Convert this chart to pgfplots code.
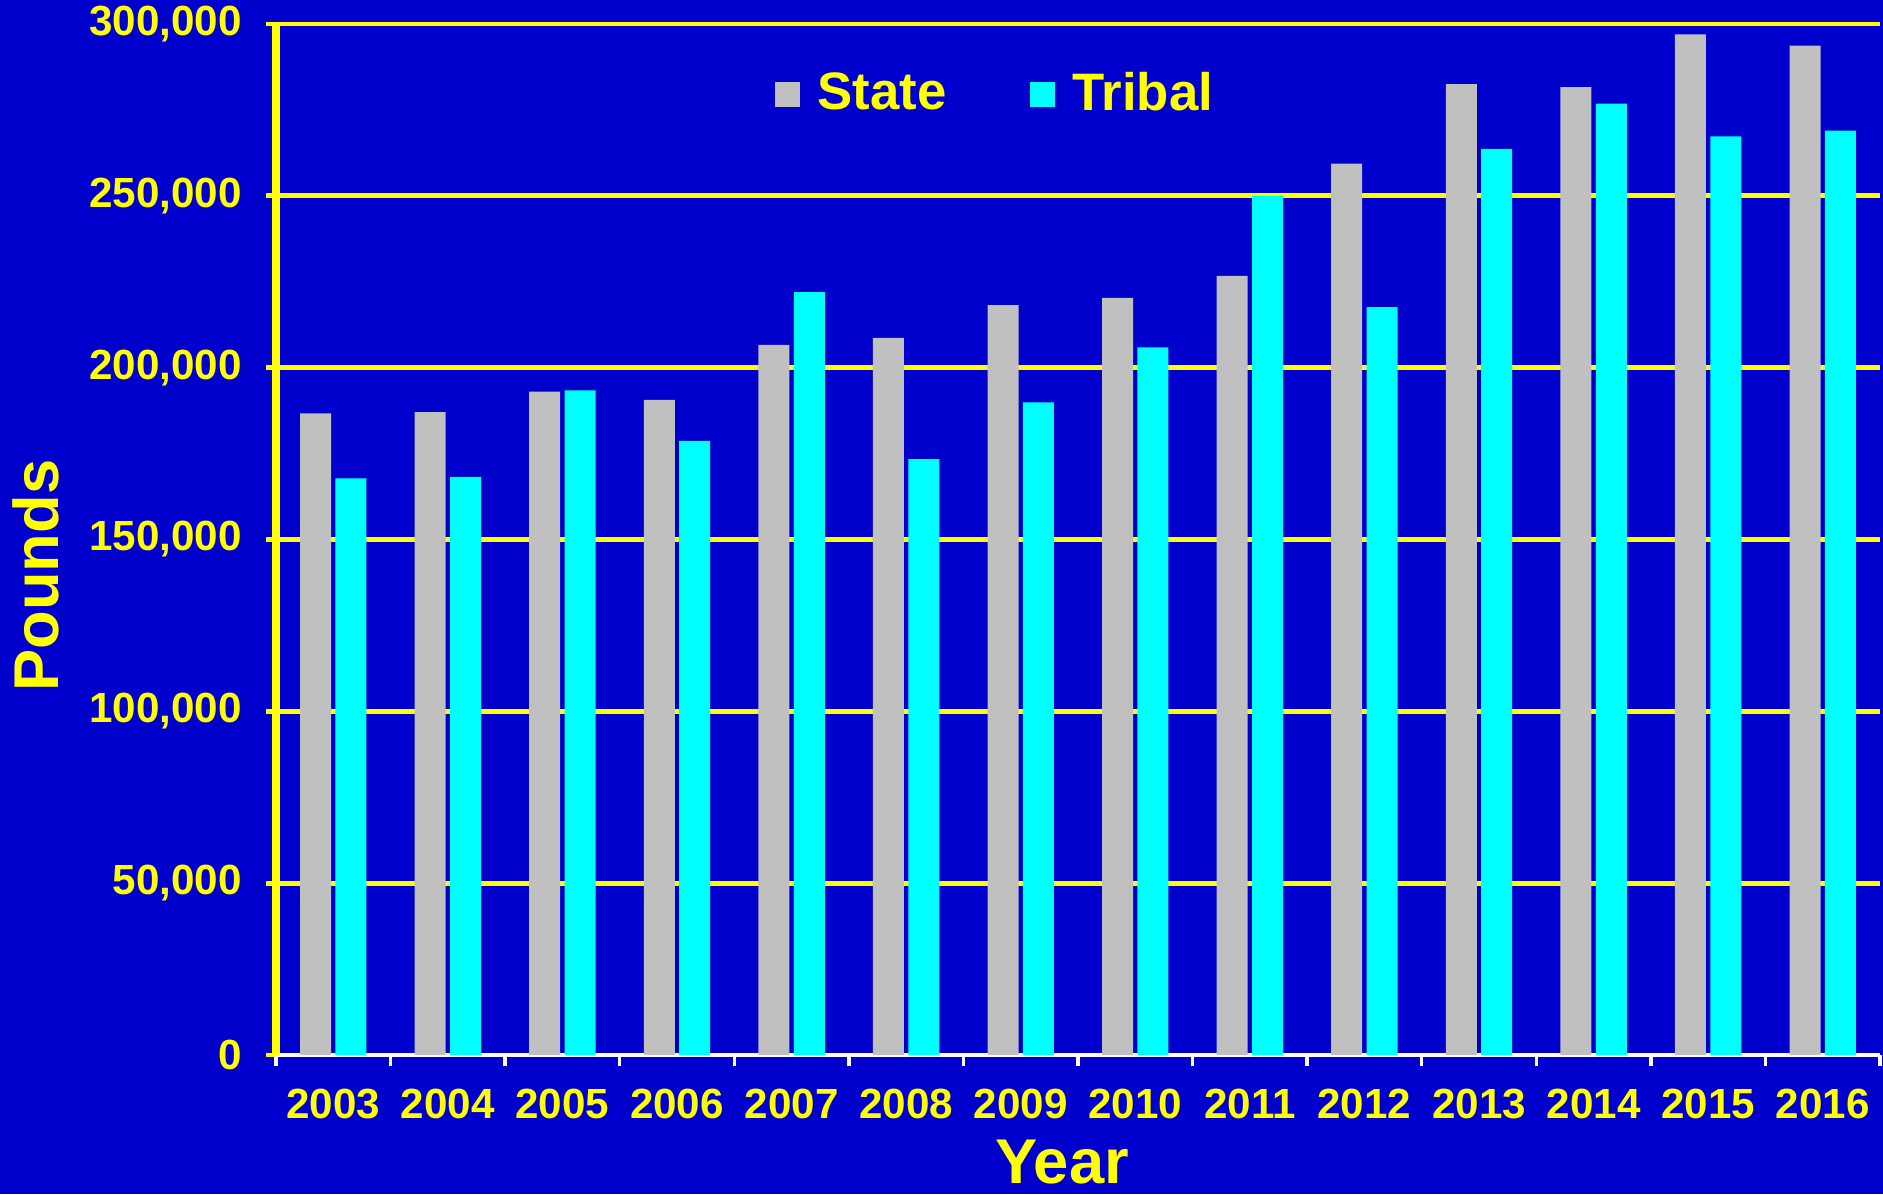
\documentclass[border=0pt]{standalone}
\usepackage{fontspec}
\setmainfont{Liberation Sans}
\usepackage{pgfplots}
\pgfplotsset{compat=1.18}
\definecolor{BgBlue}{RGB}{0,0,204}
\definecolor{AxYellow}{RGB}{255,255,0}
\definecolor{StateGray}{RGB}{192,192,192}
\definecolor{TribalCyan}{RGB}{0,255,255}
\begin{document}
\begin{tikzpicture}
% page background, also fixes the page size
\fill[BgBlue, use as bounding box] (-2.76,-1.39) rectangle (16.07,10.55);
\begin{axis}[
  at={(0,0)}, anchor=south west,
  scale only axis, width=16.04cm, height=10.31cm,
  ybar=0.044cm, bar width=0.31cm,
  xmin=-0.5, xmax=13.5, ymin=0, ymax=300000,
  enlargelimits=false,
  xtick={0,...,13},
  xticklabels={2003,2004,2005,2006,2007,2008,2009,2010,2011,2012,2013,2014,2015,2016},
  minor xtick={-0.5,0.5,...,13.5},
  ytick={0,50000,100000,150000,200000,250000,300000},
  yticklabels={0,{50,000},{100,000},{150,000},{200,000},{250,000},{300,000}},
  scaled y ticks=false,
  axis x line*=bottom, axis y line*=left,
  x axis line style={draw=white, line width=1.3pt, -},
  y axis line style={draw=AxYellow, line width=2pt, -},
  tick align=outside,
  major x tick style={draw=none},
  minor x tick style={draw=white, line width=1pt},
  minor tick length=0.11cm,
  y tick style={draw=AxYellow, line width=1.4pt},
  major tick length=0.1cm,
  ymajorgrids, grid style={draw=AxYellow, line width=1.4pt},
  tick label style={text=AxYellow, font=\fontsize{12}{14}\selectfont\bfseries},
  yticklabel style={xshift=-0.12cm},
  xticklabel style={yshift=-0.12cm},
  xlabel={Year}, ylabel={Pounds},
  label style={text=AxYellow, font=\fontsize{18}{20}\selectfont\bfseries},
  xlabel style={at={(axis description cs:0.49,-0.1038)}, anchor=center},
  ylabel style={at={(axis description cs:-0.1496,0.465)}, anchor=center},
  legend columns=2,
  legend style={at={(axis description cs:0.450,0.932)}, anchor=center,
    draw=none, fill=none, text=AxYellow,
    font=\fontsize{15}{17}\selectfont\bfseries,
    /tikz/every even column/.append style={column sep=0.77cm}},
  legend image code/.code={\fill[#1] (0cm,-0.125cm) rectangle (0.25cm,0.125cm);
    \path (0.35cm,0cm);},
]
\addplot[fill=StateGray, draw=none] coordinates
  {(0,186700) (1,187100) (2,193000) (3,190600) (4,206600) (5,208700) (6,218200)
   (7,220300) (8,226700) (9,259400) (10,282500) (11,281600) (12,297000) (13,293700)};
\addplot[fill=TribalCyan, draw=none] coordinates
  {(0,167800) (1,168200) (2,193400) (3,178700) (4,222000) (5,173400) (6,189900)
   (7,205900) (8,250100) (9,217600) (10,263700) (11,276800) (12,267300) (13,269000)};
\legend{State,Tribal}
\end{axis}
\end{tikzpicture}
\end{document}
